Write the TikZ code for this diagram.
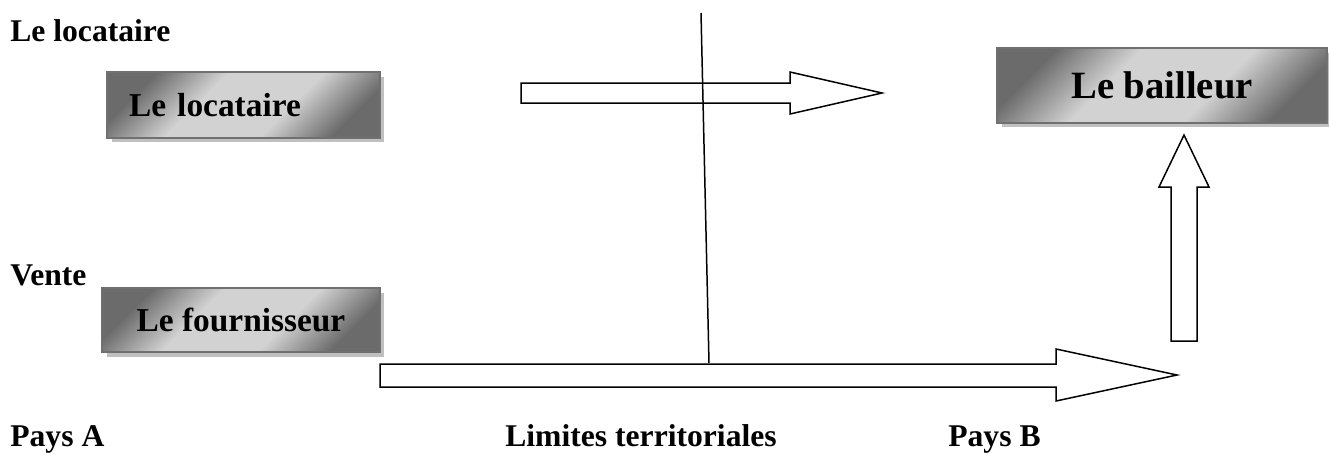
\documentclass[tikz,border=0pt]{standalone}
\usepackage{fontspec}
\setmainfont{Liberation Serif}
\usetikzlibrary{positioning, shadows}
\definecolor{cdark}{HTML}{6B6B6B}
\definecolor{clight}{HTML}{D2D2D2}
\definecolor{cedge}{HTML}{707070}
\definecolor{cshadow}{HTML}{C0C0C0}
\pgfdeclarehorizontalshading{boxshade}{100bp}{color(0bp)=(cdark); color(25bp)=(cdark); color(40bp)=(clight); color(60bp)=(clight); color(75bp)=(cdark); color(100bp)=(cdark)}
\tikzset{
  every picture/.style={x=0.02cm, y=-0.02cm},
  box/.style={draw=cedge, line width=1.1pt, shading=boxshade, shading angle=-45,
    general shadow={fill=cshadow, shadow xshift=0.09cm, shadow yshift=-0.09cm},
    font=\fontsize{19}{21}\selectfont\bfseries, align=center, inner sep=0pt},
  label/.style={font=\fontsize{18}{20}\selectfont\bfseries, anchor=base west, inner sep=0pt},
  blockarrow/.style={draw=black, line width=0.85pt, fill=white, line join=miter},
  border/.style={draw=black, line width=0.85pt},
}
\begin{document}
\begin{tikzpicture}
  \useasboundingbox (0,0) rectangle (1329,454);
  % boxes
  \node[box, minimum width=5.46cm, minimum height=1.32cm, text width=4.58cm, inner xsep=0.44cm, align=left] (loc) at (243.5,105) {Le locataire};
  \node[box, minimum width=5.56cm, minimum height=1.28cm] (four) at (241,320) {Le fournisseur};
  \node[box, minimum width=6.6cm, minimum height=1.5cm, font=\fontsize{22}{24}\selectfont\bfseries] (bail) at (1162,85.5) {Le bailleur};
  % labels
  \node[label] (tloc) at (10,41) {Le locataire};
  \node[label] (tvente) at (10,285) {Vente};
  \node[label] (tpaysa) at (10,446) {Pays A};
  \node[label, anchor=base] (tlim) at (641,446) {Limites territoriales};
  \node[label] (tpaysb) at (948,446) {Pays B};
  % block arrows
  \draw[blockarrow] (521,83) -- (790,83) -- (790,72) -- (882,93) -- (790,114) -- (790,103) -- (521,103) -- cycle;
  \draw[blockarrow] (380,364) -- (1056,364) -- (1056,349) -- (1177,375) -- (1056,401) -- (1056,387) -- (380,387) -- cycle;
  \draw[blockarrow] (1171,341) -- (1171,187) -- (1159,187) -- (1184,135) -- (1209,187) -- (1197,187) -- (1197,341) -- cycle;
  % frontier
  \coordinate (limtop) at (701,13);
  \coordinate (limbot) at (709,363);
  \draw[border] (limtop) -- (limbot);
\end{tikzpicture}
\end{document}
